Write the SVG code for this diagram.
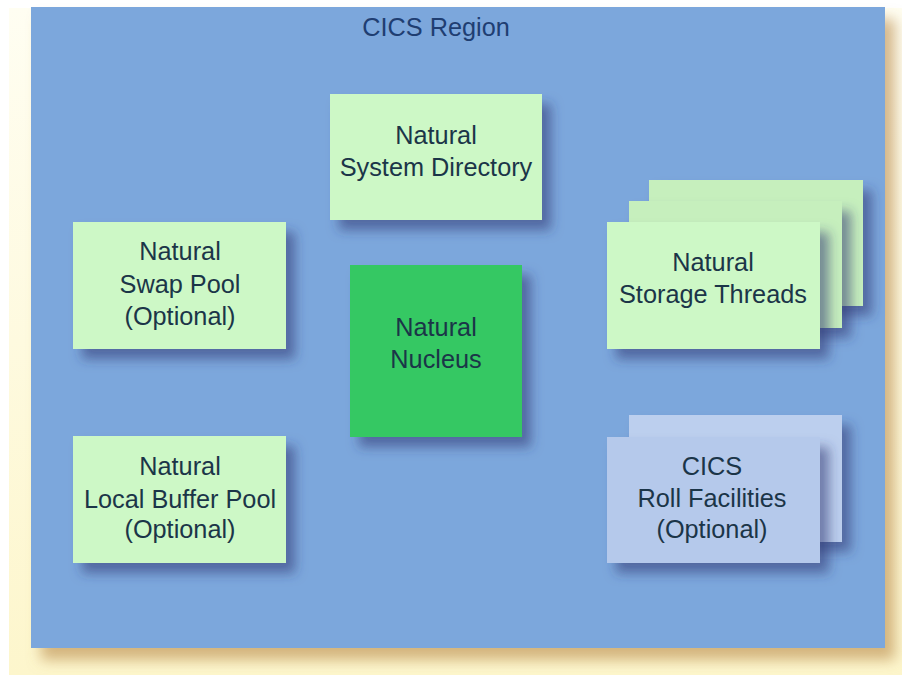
<svg xmlns="http://www.w3.org/2000/svg" width="902" height="675" viewBox="0 0 902 675">
<defs>
<linearGradient id="bg" x1="0" y1="0" x2="0" y2="1">
<stop offset="0" stop-color="#fffef2"/>
<stop offset="1" stop-color="#fdf6cc"/>
</linearGradient>
<filter id="sh" x="-20%" y="-20%" width="150%" height="150%">
<feDropShadow dx="9" dy="10" stdDeviation="6" flood-color="#2e3470" flood-opacity="0.55"/>
</filter>
<filter id="shr" x="-10%" y="-10%" width="130%" height="130%">
<feDropShadow dx="10" dy="12" stdDeviation="7" flood-color="#b8884a" flood-opacity="0.6"/>
</filter>
<style>
.t{font-family:"Liberation Sans",Arial,sans-serif;font-size:25.3px;fill:#1b3548;text-anchor:middle}
.title{font-family:"Liberation Sans",Arial,sans-serif;font-size:25.3px;fill:#1f3e72;text-anchor:middle}
.g{fill:#cdf8c6}
.gb{fill:#c6efbd}
.b{fill:#b5c9eb}
.bb{fill:#bccfee}
</style>
</defs>
<rect x="0" y="0" width="902" height="675" fill="#ffffff"/>
<rect x="9" y="8" width="893" height="667" fill="url(#bg)"/>
<g id="region">
<rect x="31" y="7" width="854" height="641" fill="#7ca7dc" filter="url(#shr)"/>
<text class="title" x="436" y="36">CICS Region</text>
</g>
<g id="connectors"/>
<g id="system-directory">
<rect class="g" x="330" y="94" width="212" height="126" filter="url(#sh)"/>
<text class="t" x="436" y="144">Natural</text>
<text class="t" x="436" y="176">System Directory</text>
</g>
<g id="swap-pool">
<rect class="g" x="73" y="222" width="213" height="127" filter="url(#sh)"/>
<text class="t" x="180" y="260">Natural</text>
<text class="t" x="180" y="293">Swap Pool</text>
<text class="t" x="180" y="325">(Optional)</text>
</g>
<g id="nucleus">
<rect x="350" y="265" width="172" height="172" fill="#34c864" filter="url(#sh)"/>
<text class="t" x="436" y="336">Natural</text>
<text class="t" x="436" y="368">Nucleus</text>
</g>
<g id="local-buffer-pool">
<rect class="g" x="73" y="436" width="213" height="127" filter="url(#sh)"/>
<text class="t" x="180" y="475">Natural</text>
<text class="t" x="180" y="508">Local Buffer Pool</text>
<text class="t" x="180" y="538">(Optional)</text>
</g>
<g id="storage-threads">
<rect class="gb" x="649" y="180" width="214" height="126" filter="url(#sh)"/>
<rect class="gb" x="629" y="201" width="213" height="127" filter="url(#sh)"/>
<rect class="g" x="607" y="222" width="213" height="127" filter="url(#sh)"/>
<text class="t" x="713" y="271">Natural</text>
<text class="t" x="713" y="303">Storage Threads</text>
</g>
<g id="roll-facilities">
<rect class="bb" x="629" y="415" width="213" height="127" filter="url(#sh)"/>
<rect class="b" x="607" y="437" width="213" height="126" filter="url(#sh)"/>
<text class="t" x="712" y="475">CICS</text>
<text class="t" x="712" y="507">Roll Facilities</text>
<text class="t" x="712" y="538">(Optional)</text>
</g>
</svg>
